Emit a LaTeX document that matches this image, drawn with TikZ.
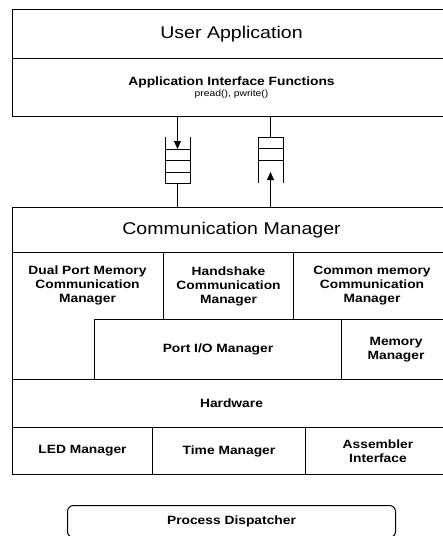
\documentclass[tikz,border=0pt]{standalone}
\usepackage{fontspec}
\setmainfont{Liberation Sans}[FakeStretch=1.15]
\usetikzlibrary{arrows.meta,positioning}

\begin{document}
\begin{tikzpicture}[x=1pt, y=-1pt,
      layer/.style={draw, line width=1pt, anchor=north west, inner sep=0pt,
                    font=\fontsize{12}{14}\selectfont\bfseries, align=center},
      title/.style={layer, font=\fontsize{17}{20}\selectfont},
      lbl/.style={inner sep=0pt, font=\fontsize{12}{14}\selectfont\bfseries, align=center},
      cell/.style={draw, line width=1pt, outer sep=0pt, inner sep=0pt,
                   minimum width=25pt, minimum height=11.5pt},
      arr/.style={-{Triangle[length=8pt,width=7pt]}, line width=1pt}
  ]
    \useasboundingbox (0,0) rectangle (443,536);
    \clip (0,0) rectangle (443,536);
    % application side
    \node[title, minimum width=438pt, minimum height=49pt] (user) at (12,9) {User Application};
    \node[layer, minimum width=438pt, minimum height=58pt] (api) at (12,58)
         {Application Interface Functions\\[-3pt]{\fontsize{9}{10}\selectfont\mdseries pread(), pwrite()}};
    % queues
    \node[cell, anchor=north] (qa1) at (177.5,149) {};
    \node[cell, below=0pt of qa1] (qa2) {};
    \node[cell, below=0pt of qa2] (qa3) {};
    \draw[line width=1pt] (qa1.north west) -- ++(0,-12) (qa1.north east) -- ++(0,-12);
    \node[cell, anchor=north] (qb1) at (270.5,137) {};
    \node[cell, below=0pt of qb1] (qb2) {};
    \draw[line width=1pt] (qb2.south west) -- ++(0,23) (qb2.south east) -- ++(0,23);
    % communication layers
    \node[title, minimum width=438pt, minimum height=45pt] (comm) at (12,207) {Communication Manager};
    \node[layer, minimum width=438pt, minimum height=127pt] (cmframe) at (12,252) {};
    \node[lbl] (dual) at (87.5,285.5) {Dual Port Memory\\Communication\\Manager};
    \node[layer, minimum width=130pt, minimum height=67pt] (hand) at (163,252) {Handshake\\Communication\\Manager};
    \node[layer, minimum width=157pt, minimum height=67pt] (cmem) at (293,252) {Common memory\\Communication\\Manager};
    \node[layer, minimum width=247pt, minimum height=60pt] (port) at (94,319) {Port I/O Manager};
    \node[layer, minimum width=109pt, minimum height=60pt] (mem) at (341,319) {Memory\\Manager};
    % hardware
    \node[layer, minimum width=438pt, minimum height=48pt] (hw) at (12,379) {Hardware};
    \node[layer, minimum width=140pt, minimum height=47pt] (led) at (12,427) {LED Manager};
    \node[layer, minimum width=153pt, minimum height=47pt] (time) at (152,427) {Time Manager};
    \node[layer, minimum width=145pt, minimum height=47pt] (asm) at (305,427) {Assembler\\Interface};
    \node[layer, rounded corners=6pt, minimum width=328pt, minimum height=32pt] (disp) at (67,505) {Process Dispatcher};
    \draw[arr] (qa1.north |- api.south) -- (qa1.north);
    \draw[line width=1pt] (qa3.south) -- (qa3.south |- comm.north);
    \draw[line width=1pt] (qb1.north |- api.south) -- (qb1.north);
    \draw[arr] (qb2.south |- comm.north) -- ([yshift=-12pt]qb2.south);
\end{tikzpicture}
\end{document}
